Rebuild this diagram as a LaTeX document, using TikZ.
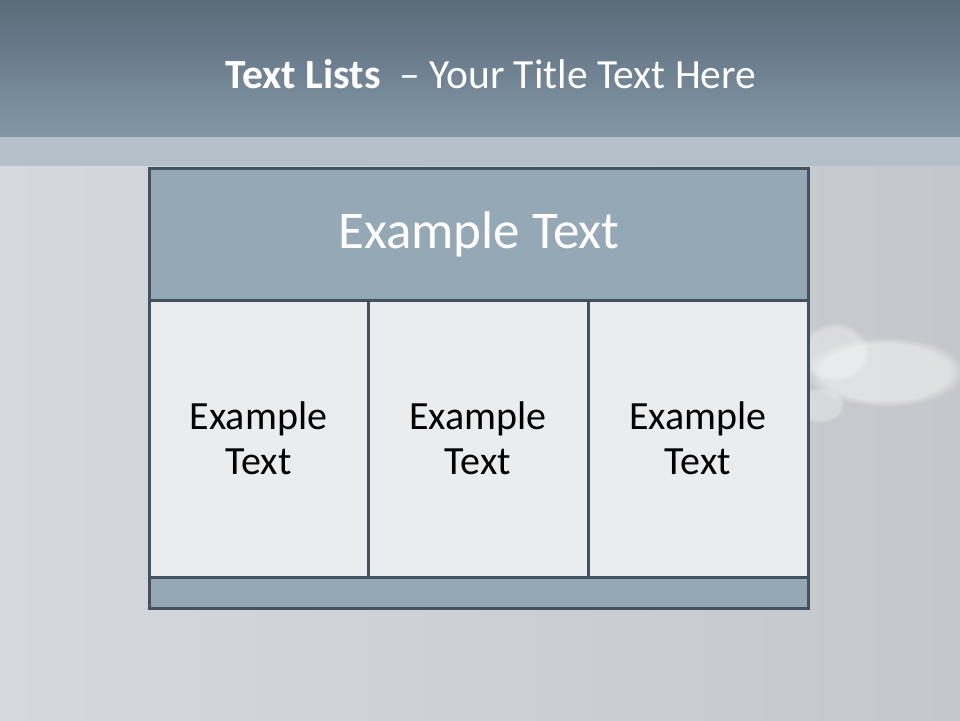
\documentclass[tikz,border=0pt]{standalone}
\usepackage{fontspec}
\setmainfont{Carlito}
\usetikzlibrary{fadings}
\definecolor{topA}{HTML}{5A6B7A}
\definecolor{topB}{HTML}{8397A7}
\definecolor{bandc}{HTML}{B4BFC9}
\definecolor{bgA}{HTML}{D5D9DE}
\definecolor{bgB}{HTML}{C4C7CB}
\definecolor{hdr}{HTML}{95A8B5}
\definecolor{cellc}{HTML}{E9EDF0}
\definecolor{edge}{HTML}{44525F}
\tikzset{
  cellbox/.style={draw=edge, line width=3pt, fill=cellc},
  hdrbox/.style={draw=edge, line width=3pt, fill=hdr},
  celltext/.style={font=\fontsize{40}{45}\selectfont, align=center, text=black},
  hdrtext/.style={font=\fontsize{53}{60}\selectfont, text=white},
  cloud/.style={fill=white, path fading=circle with fuzzy edge 20 percent},
}
\begin{document}
\begin{tikzpicture}[x=1pt,y=-1pt]
\useasboundingbox (0,0) rectangle (960,720);
% background
\shade[left color=bgA, right color=bgB] (0,137) rectangle (960,720);
\fill[cloud, opacity=0.45] (885,372) ellipse (80 and 35);
\fill[cloud, opacity=0.35] (835,352) ellipse (35 and 30);
\fill[cloud, opacity=0.3] (820,405) ellipse (25 and 18);
% title bar
\shade[top color=topA, bottom color=topB] (0,0) rectangle (960,137);
\fill[bandc] (0,137) rectangle (960,166);
\node[font=\fontsize{41.5}{46}\selectfont, text=white, anchor=base] (title) at (491,88)
  {\textbf{Text Lists}\ \ – Your Title Text Here};
% box
\draw[hdrbox] (149,168) rectangle (808,300);
\draw[cellbox] (149,300) rectangle (368,577);
\draw[cellbox] (368,300) rectangle (588,577);
\draw[cellbox] (588,300) rectangle (808,577);
\draw[hdrbox] (149,577) rectangle (808,608);
\node[hdrtext] (hdr) at (479,234.5) {Example Text};
\node[celltext] (c1) at (258.5,438) {Example\\Text};
\node[celltext] (c2) at (478,438) {Example\\Text};
\node[celltext] (c3) at (698,438) {Example\\Text};
\end{tikzpicture}
\end{document}
